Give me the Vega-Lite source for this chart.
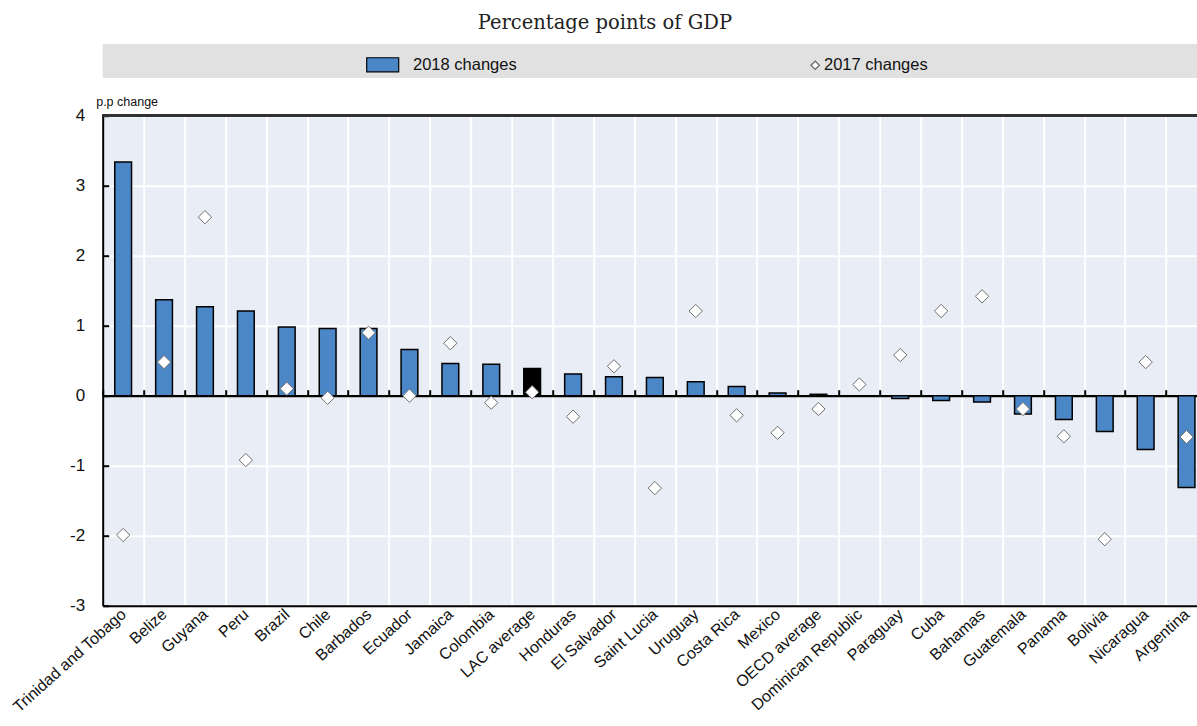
{
  "$schema": "https://vega.github.io/schema/vega-lite/v6.json",
  "width": 1094.3,
  "height": 490,
  "autosize": {"type": "none"},
  "padding": {"left": 102.7, "top": 115.7, "right": 0, "bottom": 120.3},
  "background": "white",
  "title": {
    "text": "Percentage points of GDP",
    "font": "DejaVu Serif",
    "fontSize": 19.5,
    "fontWeight": "normal",
    "color": "#222222",
    "anchor": "middle",
    "frame": "group",
    "dx": -45,
    "offset": 11
  },
  "config": {
    "view": {"stroke": null, "fill": "#e9edf5"},
    "axis": {
      "labelFont": "Liberation Sans",
      "titleFont": "Liberation Sans",
      "labelColor": "#111111",
      "titleColor": "#111111"
    }
  },
  "data": {
    "values": [
      {"country": "Trinidad and Tobago", "v2018": 3.34, "v2017": -1.99},
      {"country": "Belize", "v2018": 1.37, "v2017": 0.48},
      {"country": "Guyana", "v2018": 1.27, "v2017": 2.55},
      {"country": "Peru", "v2018": 1.21, "v2017": -0.92},
      {"country": "Brazil", "v2018": 0.98, "v2017": 0.10},
      {"country": "Chile", "v2018": 0.96, "v2017": -0.03},
      {"country": "Barbados", "v2018": 0.96, "v2017": 0.90},
      {"country": "Ecuador", "v2018": 0.66, "v2017": 0.00},
      {"country": "Jamaica", "v2018": 0.46, "v2017": 0.75},
      {"country": "Colombia", "v2018": 0.45, "v2017": -0.10},
      {"country": "LAC average", "v2018": 0.39, "v2017": 0.05},
      {"country": "Honduras", "v2018": 0.31, "v2017": -0.30},
      {"country": "El Salvador", "v2018": 0.27, "v2017": 0.42},
      {"country": "Saint Lucia", "v2018": 0.26, "v2017": -1.32},
      {"country": "Uruguay", "v2018": 0.20, "v2017": 1.21},
      {"country": "Costa Rica", "v2018": 0.13, "v2017": -0.28},
      {"country": "Mexico", "v2018": 0.04, "v2017": -0.53},
      {"country": "OECD average", "v2018": 0.02, "v2017": -0.19},
      {"country": "Dominican Republic", "v2018": 0.0, "v2017": 0.16},
      {"country": "Paraguay", "v2018": -0.04, "v2017": 0.58},
      {"country": "Cuba", "v2018": -0.07, "v2017": 1.21},
      {"country": "Bahamas", "v2018": -0.09, "v2017": 1.42},
      {"country": "Guatemala", "v2018": -0.26, "v2017": -0.19},
      {"country": "Panama", "v2018": -0.34, "v2017": -0.58},
      {"country": "Bolivia", "v2018": -0.51, "v2017": -2.05},
      {"country": "Nicaragua", "v2018": -0.77, "v2017": 0.48},
      {"country": "Argentina", "v2018": -1.31, "v2017": -0.59}
    ]
  },
  "layer": [
    {
      "mark": {"type": "bar", "stroke": "black", "strokeWidth": 1.5, "width": {"band": 0.41}},
      "encoding": {
        "x": {
          "field": "country",
          "type": "nominal",
          "sort": null,
          "scale": {"range": [0, 1104.3], "paddingInner": 0, "paddingOuter": 0},
          "axis": {
            "orient": "bottom",
            "title": null,
            "domain": true,
            "domainColor": "black",
            "domainWidth": 2,
            "ticks": false,
            "grid": true,
            "gridColor": "white",
            "gridWidth": 2,
            "tickBand": "extent",
            "labelAngle": -42,
            "labelAlign": "right",
            "labelBaseline": "middle",
            "labelPadding": 6,
            "labelFontSize": 16,
            "labelLimit": 300
          }
        },
        "y": {
          "field": "v2018",
          "type": "quantitative",
          "scale": {"domain": [-3, 4], "nice": false, "zero": false},
          "axis": {
            "title": "p.p change",
            "titleAngle": 0,
            "titleAlign": "left",
            "titleBaseline": "alphabetic",
            "titleX": -7,
            "titleY": -10.7,
            "titleFontSize": 12.5,
            "titleFontWeight": "normal",
            "values": [-3, -2, -1, 0, 1, 2, 3, 4],
            "labelExpr": "'' + datum.value",
            "grid": true,
            "gridColor": "white",
            "gridWidth": 2,
            "domainColor": "black",
            "domainWidth": 2,
            "ticks": true,
            "tickSize": -6,
            "tickColor": "black",
            "tickWidth": 2,
            "labelPadding": 24,
            "labelFontSize": 17
          }
        },
        "fill": {
          "datum": "2018 changes",
          "type": "nominal",
          "condition": {"test": "datum.country === 'LAC average'", "value": "black"},
          "scale": {"domain": ["2018 changes", "2017 changes"], "range": ["#4b87c7", "white"]},
          "legend": {
            "orient": "none",
            "legendX": 0,
            "legendY": -71.7,
            "direction": "horizontal",
            "title": " ",
            "titleOrient": "right",
            "titlePadding": 290,
            "fillColor": "#e1e1e1",
            "padding": 3.5,
            "symbolSize": 1024,
            "symbolType": "M-1,-0.44H1V0.44H-1Z",
            "symbolOffset": 260.5,
            "labelOffset": 12.3,
            "columnPadding": 0,
            "labelFont": "Liberation Sans",
            "labelFontSize": 16.5,
            "labelColor": "#111111",
            "symbolStrokeColor": "black",
            "symbolStrokeWidth": 1.3,
            "encode": {
              "symbols": {
                "update": {
                  "shape": {"signal": "datum.label === '2017 changes' ? 'diamond' : 'M-1,-0.44H1V0.44H-1Z'"},
                  "size": {"signal": "datum.label === '2017 changes' ? 70 : 1024"},
                  "stroke": {"signal": "datum.label === '2017 changes' ? '#666666' : 'black'"},
                  "strokeWidth": {"value": 1.2},
                  "opacity": {"value": 1},
                  "x": {"signal": "datum.label === '2017 changes' ? 298 : 276.5"}
                }
              }
            }
          }
        }
      }
    },
    {
      "mark": {"type": "point", "shape": "diamond", "filled": true, "size": 177, "stroke": "#6e6e6e", "strokeWidth": 1, "opacity": 1},
      "encoding": {
        "x": {
          "field": "country",
          "type": "nominal",
          "sort": null,
          "axis": {
            "orient": "top",
            "offset": -280,
            "title": null,
            "labels": false,
            "grid": false,
            "domain": true,
            "domainColor": "black",
            "domainWidth": 2.2,
            "ticks": true,
            "tickColor": "black",
            "tickWidth": 2,
            "tickSize": 6,
            "tickBand": "extent"
          }
        },
        "y": {"field": "v2017", "type": "quantitative"},
        "fill": {"datum": "2017 changes", "type": "nominal"}
      }
    },
    {
      "mark": {"type": "rule", "color": "#333333", "strokeWidth": 2},
      "encoding": {"y": {"datum": 4}}
    }
  ],
  "resolve": {"axis": {"x": "independent"}}
}
